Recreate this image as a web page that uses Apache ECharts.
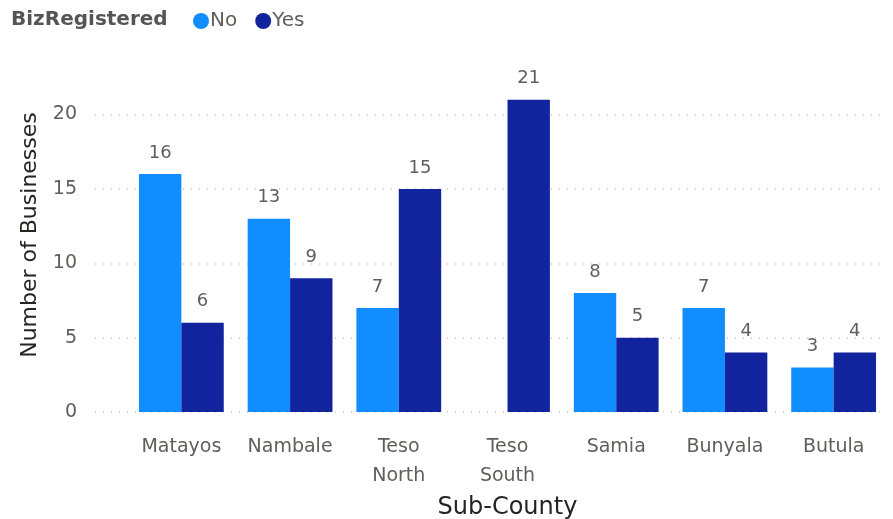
<!DOCTYPE html>
<html>
<head>
<meta charset="utf-8">
<script src="https://cdn.jsdelivr.net/npm/echarts@6/dist/echarts.min.js"></script>
<style>
  html, body { margin: 0; padding: 0; background: #fff; }
  #chart { width: 893px; height: 519px; }
</style>
</head>
<body>
<div id="chart"></div>
<script>
// Businesses per sub-county, split by registration status
const subCounties = ['Matayos', 'Nambale', 'Teso\nNorth', 'Teso\nSouth', 'Samia', 'Bunyala', 'Butula'];
const notRegistered = [16, 13, 7, null, 8, 7, 3];
const registered = [6, 9, 15, 21, 5, 4, 4];
const yTicks = [0, 5, 10, 15, 20];

const FONT = '"DejaVu Sans", "Noto Sans", sans-serif';
const LABEL_GREY = '#605E5C';
const TITLE_DARK = '#252423';

const chart = echarts.init(document.getElementById('chart'), null, { renderer: 'canvas' });

const yMin = yTicks[0];
const yStep = yTicks[1] - yTicks[0];
const yMax = 23.8;   // headroom above the tallest bar

const labelStyle = {
  show: true,
  position: 'top',
  distance: 12,
  color: LABEL_GREY,
  fontFamily: FONT,
  fontSize: 18
};

chart.setOption({
  animation: false,
  title: {
    text: 'BizRegistered',
    left: 6,
    top: 5,
    textStyle: { fontFamily: FONT, fontSize: 20, fontWeight: 'bold', color: '#555555' }
  },
  legend: {
    left: 188,
    top: 6,
    icon: 'circle',
    itemWidth: 16,
    itemHeight: 16,
    itemGap: 18,
    textStyle: { fontFamily: FONT, fontSize: 20, color: LABEL_GREY, padding: [0, 0, 0, -4] },
    data: ['No', 'Yes']
  },
  grid: [
    // background grid carrying the value axis and its dotted gridlines
    { left: 95, right: 8, top: 58, bottom: 107, outerBoundsMode: 'none' },
    // grid holding the bars
    { left: 127, right: 5, top: 58, bottom: 107, outerBoundsMode: 'none' }
  ],
  xAxis: [
    { gridIndex: 0, type: 'value', show: false, min: 0, max: 1 },
    {
      gridIndex: 1,
      type: 'category',
      data: subCounties,
      axisLine: { show: false },
      axisTick: { show: false },
      axisLabel: {
        color: LABEL_GREY,
        fontFamily: FONT,
        fontSize: 19,
        lineHeight: 29,
        margin: 21,
        interval: 0
      },
      name: 'Sub-County',
      nameLocation: 'middle',
      nameGap: 75,
      nameTextStyle: { color: TITLE_DARK, fontFamily: FONT, fontSize: 24 }
    }
  ],
  yAxis: [
    {
      gridIndex: 0,
      type: 'value',
      min: yMin,
      max: yMax,
      interval: yStep,
      axisLine: { show: false },
      axisTick: { show: false },
      axisLabel: {
        color: LABEL_GREY,
        fontFamily: FONT,
        fontSize: 19,
        margin: 18,
        formatter: v => (yTicks.includes(v) ? String(v) : '')
      },
      splitLine: {
        show: true,
        showMaxLine: false,
        lineStyle: { color: '#C8C6C4', type: [1, 7], width: 1.5 }
      },
      name: 'Number of Businesses',
      nameLocation: 'middle',
      nameRotate: 90,
      nameGap: 54,
      nameTextStyle: { color: TITLE_DARK, fontFamily: FONT, fontSize: 22 }
    },
    {
      gridIndex: 1,
      type: 'value',
      min: yMin,
      max: yMax,
      interval: yStep,
      show: false,
      splitLine: { show: false }
    }
  ],
  series: [
    {
      name: 'No',
      type: 'bar',
      xAxisIndex: 1,
      yAxisIndex: 1,
      data: notRegistered,
      barGap: '0%',
      barCategoryGap: '22%',
      itemStyle: { color: '#118DFF' },
      label: labelStyle
    },
    {
      name: 'Yes',
      type: 'bar',
      xAxisIndex: 1,
      yAxisIndex: 1,
      data: registered,
      barGap: '0%',
      barCategoryGap: '22%',
      itemStyle: { color: '#12239E' },
      label: labelStyle
    }
  ]
});
</script>
</body>
</html>
